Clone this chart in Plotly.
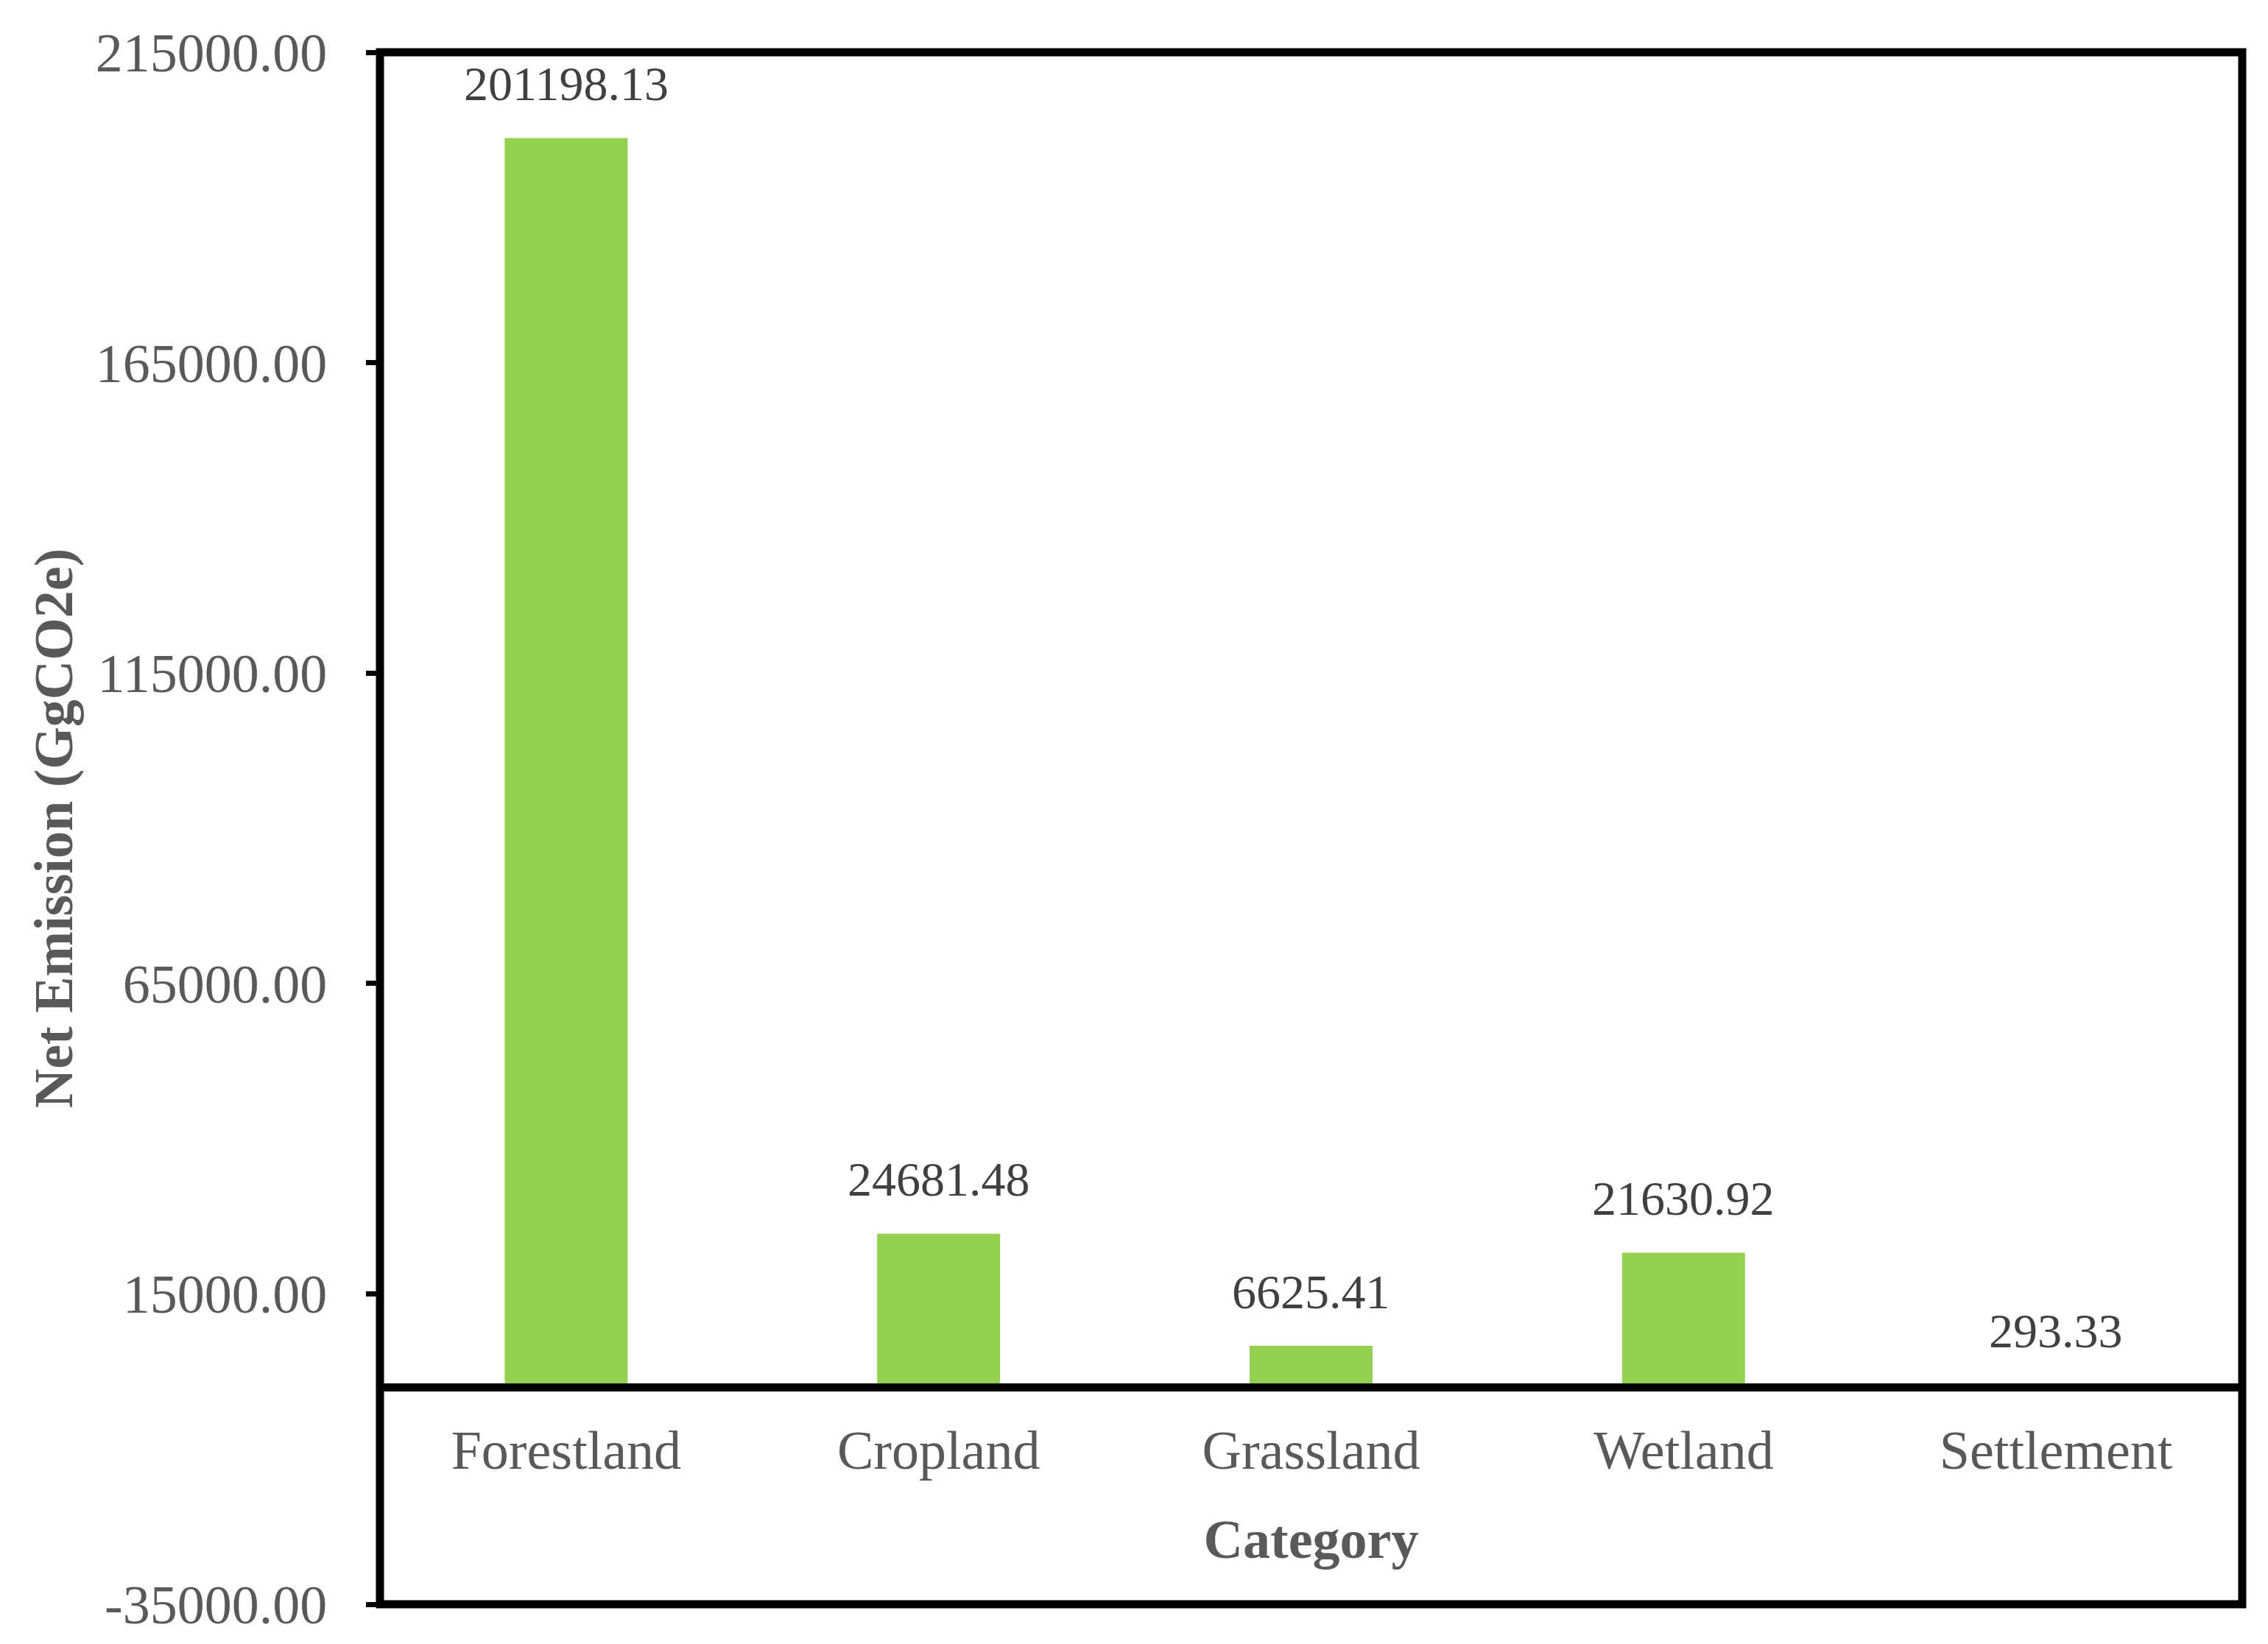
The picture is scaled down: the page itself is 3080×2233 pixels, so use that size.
import plotly.graph_objects as go

categories = ["Forestland", "Cropland", "Grassland", "Wetland", "Settlement"]
values = [201198.13, 24681.48, 6625.41, 21630.92, 293.33]
y_ticks = [-35000, 15000, 65000, 115000, 165000, 215000]
y_tick_text = [f"{v:.2f}" for v in y_ticks]
y_min, y_max = -35000, 215000

FONT = "Liberation Serif, Times New Roman, serif"
# page has an 8px body margin; keep the figure inside the 3080x2233 window
W, H = 3072, 2225
ML, MR, MT, MB = 508, 35, 63, 54

fig = go.Figure()
fig.add_trace(go.Bar(
    x=categories, y=values, width=0.33,
    marker=dict(color="#92D050", line=dict(width=0)),
    showlegend=False, hoverinfo="x+y",
))

for c, v in zip(categories, values):
    fig.add_annotation(
        x=c, y=v, xref="x", yref="y", text=f"{v:.2f}", showarrow=False,
        yanchor="middle", yshift=74,
        font=dict(family=FONT, size=66, color="#404040"),
    )

zero_pos = (0 - y_min) / (y_max - y_min)

fig.update_layout(
    width=W, height=H,
    margin=dict(l=ML, r=MR, t=MT, b=MB),
    paper_bgcolor="white", plot_bgcolor="white",
    font=dict(family=FONT, color="#595959"),
    xaxis=dict(
        anchor="free", position=zero_pos, automargin=False,
        showline=True, linecolor="black", linewidth=11,
        showgrid=False, zeroline=False, ticks="",
        tickfont=dict(family=FONT, size=74, color="#595959"),
        ticklabelstandoff=16,
        title=dict(text="<b>Category</b>", standoff=54,
                   font=dict(family=FONT, size=74, color="#595959")),
    ),
    yaxis=dict(
        range=[y_min, y_max], tickvals=y_ticks, ticktext=y_tick_text,
        automargin=False,
        showgrid=False, zeroline=False, showline=False,
        ticks="outside", ticklen=18, tickwidth=7, tickcolor="black",
        tickfont=dict(family=FONT, size=74, color="#595959"),
        ticklabelstandoff=38,
        title=dict(text="<b>Net Emission (GgCO2e)</b>", standoff=6,
                   font=dict(family=FONT, size=74, color="#595959")),
    ),
    yaxis2=dict(
        overlaying="y", anchor="x", side="left", automargin=False,
        range=[y_min, y_max], tickvals=y_ticks,
        showticklabels=False, showgrid=False, zeroline=False, showline=False,
        ticks="inside", ticklen=18, tickwidth=7, tickcolor="black",
    ),
    shapes=[dict(
        type="rect", xref="paper", yref="paper", x0=0, x1=1, y0=0, y1=1,
        line=dict(color="black", width=11), fillcolor="rgba(0,0,0,0)",
        layer="above",
    )],
)

fig.write_html("out.html")
